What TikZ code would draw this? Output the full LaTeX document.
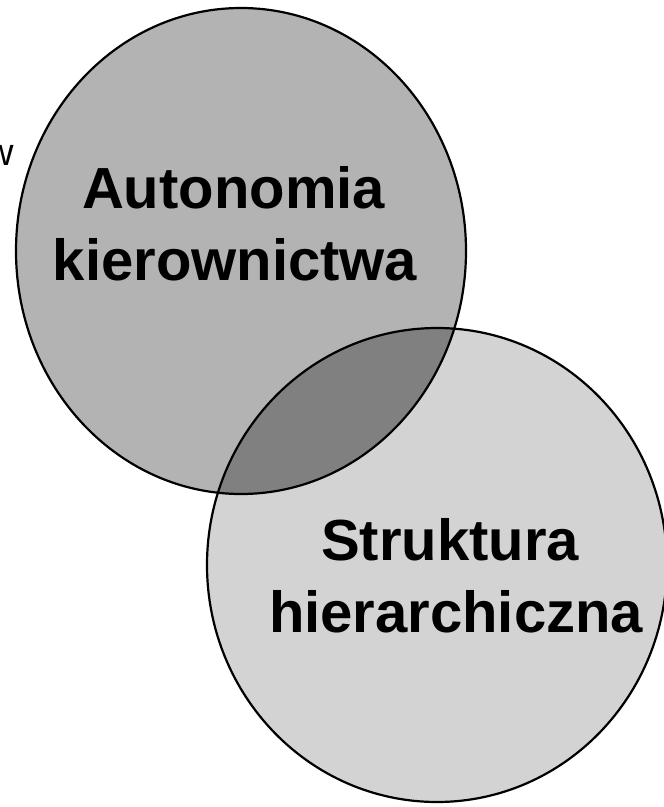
\documentclass[tikz,border=0pt]{standalone}
\usepackage{fontspec}
\setmainfont{Liberation Sans}
\definecolor{topgray}{HTML}{B3B3B3}
\definecolor{botgray}{HTML}{D3D3D3}
\definecolor{midgray}{HTML}{808080}
\begin{document}
\begin{tikzpicture}[x=1pt,y=-1pt,
  outline/.style={draw=black,line width=2.2pt},
  bigtext/.style={font=\fontsize{58}{70}\selectfont\bfseries,inner sep=0pt,anchor=base},
  smalltext/.style={font=\fontsize{38}{40}\selectfont,inner sep=0pt,anchor=base}]
\useasboundingbox (0,0) rectangle (664,807);
\coordinate (c1) at (241,251);
\coordinate (c2) at (437,565);
\fill[topgray] (c1) ellipse [x radius=225, y radius=243];
\fill[botgray] (c2) ellipse [x radius=230, y radius=237];
\begin{scope}
  \clip (c1) ellipse [x radius=225, y radius=243];
  \fill[midgray] (c2) ellipse [x radius=230, y radius=237];
\end{scope}
\draw[outline] (c1) ellipse [x radius=225, y radius=243];
\draw[outline] (c2) ellipse [x radius=230, y radius=237];
\node[smalltext] (w) at (0,165) {w};
\node[bigtext] (a1) at (233.5,208) {Autonomia};
\node[bigtext] (a2) at (235,280) {kierownictwa};
\node[bigtext] (s1) at (450,560) {Struktura};
\node[bigtext] (s2) at (456,632) {hierarchiczna};
\end{tikzpicture}
\end{document}
